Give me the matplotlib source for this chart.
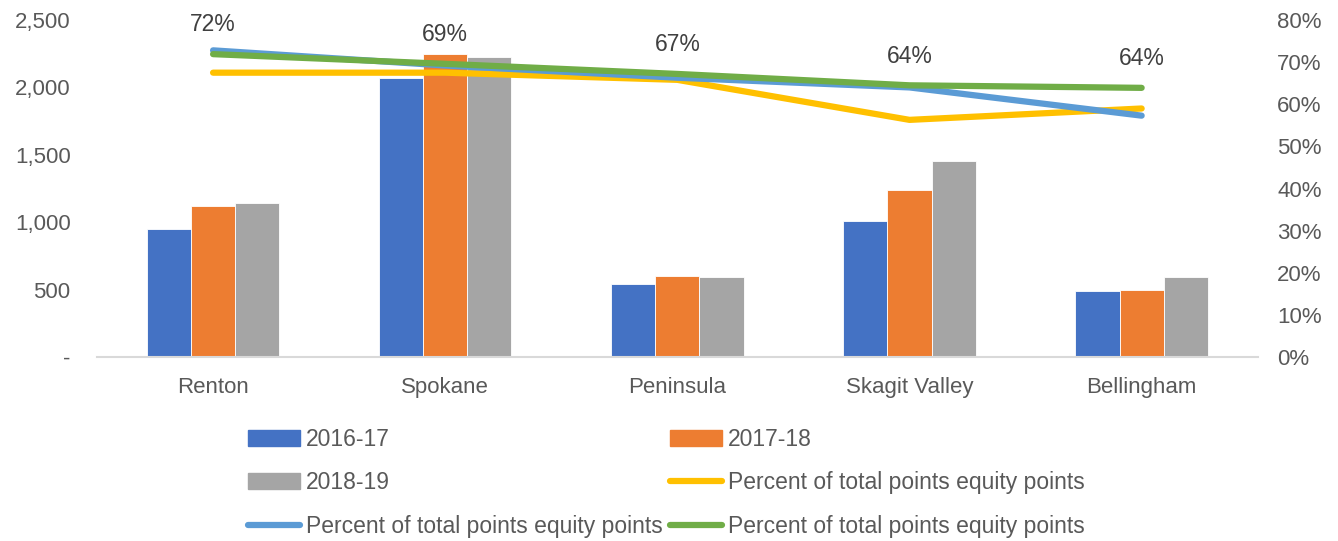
import matplotlib
matplotlib.use("Agg")
import matplotlib.pyplot as plt
import numpy as np
from matplotlib.ticker import FuncFormatter, MultipleLocator
from matplotlib.patches import Patch
from matplotlib.lines import Line2D

plt.rcParams['font.family'] = ['Liberation Sans', 'DejaVu Sans']

categories = ["Renton", "Spokane", "Peninsula", "Skagit Valley", "Bellingham"]
years = ["2016-17", "2017-18", "2018-19"]
vals_2016 = [950, 2070, 545, 1007, 492]
vals_2017 = [1120, 2245, 601, 1236, 494]
vals_2018 = [1142, 2228, 593, 1452, 593]

pct_yellow = [67.5, 67.5, 65.8, 56.3, 59.0]
pct_blue = [72.8, 69.2, 66.3, 64.0, 57.3]
pct_green = [71.9, 69.6, 67.2, 64.5, 63.9]
pct_labels = ["72%", "69%", "67%", "64%", "64%"]
line_name = "Percent of total points equity points"

bar_colors = ["#4472C4", "#ED7D31", "#A5A5A5"]
c_yellow, c_blue, c_green = "#FFC000", "#5B9BD5", "#70AD47"
txt = "#595959"

fig = plt.figure(figsize=(13.38, 5.41), dpi=100)
ax = fig.add_axes([0.0725, 0.340, 0.8675, 0.623])
x = np.arange(len(categories))
w = 0.19
for i, (vals, c) in enumerate(zip([vals_2016, vals_2017, vals_2018], bar_colors)):
    ax.bar(x + (i - 1) * w, vals, width=w, color=c, edgecolor="white", linewidth=0.6, zorder=2)

ax.set_xlim(-0.5, len(categories) - 0.5)
ax.set_ylim(0, 2500)
ax.yaxis.set_major_locator(MultipleLocator(500))
ax.yaxis.set_major_formatter(FuncFormatter(lambda v, p: "-" if v == 0 else f"{int(v):,}"))
ax.set_xticks(x)
ax.set_xticklabels(categories)
for s in ["top", "left", "right"]:
    ax.spines[s].set_visible(False)
ax.spines["bottom"].set_color("#D9D9D9")
ax.spines["bottom"].set_linewidth(1.5)
ax.tick_params(axis="both", length=0, labelsize=16, colors=txt)
ax.tick_params(axis="x", pad=14)
ax.tick_params(axis="y", pad=19)

ax2 = ax.twinx()
ax2.set_ylim(0, 80)
ax2.yaxis.set_major_locator(MultipleLocator(10))
ax2.yaxis.set_major_formatter(FuncFormatter(lambda v, p: f"{int(round(v))}%"))
for s in ["top", "left", "right", "bottom"]:
    ax2.spines[s].set_visible(False)
ax2.tick_params(axis="y", length=0, labelsize=16, colors=txt, pad=14)

lw = 4.5
ax2.plot(x, pct_yellow, color=c_yellow, lw=lw, solid_capstyle="round", solid_joinstyle="round", zorder=3)
ax2.plot(x, pct_blue, color=c_blue, lw=lw, solid_capstyle="round", solid_joinstyle="round", zorder=4)
ax2.plot(x, pct_green, color=c_green, lw=lw, solid_capstyle="round", solid_joinstyle="round", zorder=5)
for xi, yi, lab in zip(x, pct_green, pct_labels):
    ax2.annotate(lab, (xi, yi), xytext=(0, 21), textcoords="offset points",
                 ha="center", va="center", fontsize=16.5, color="#404040")

handles = [Patch(color=bar_colors[0]), Patch(color=bar_colors[2]),
           Line2D([], [], color=c_blue, lw=lw, solid_capstyle="round"),
           Patch(color=bar_colors[1]),
           Line2D([], [], color=c_yellow, lw=lw, solid_capstyle="round"),
           Line2D([], [], color=c_green, lw=lw, solid_capstyle="round")]
labels = [years[0], years[2], line_name, years[1], line_name, line_name]
fig.legend(handles, labels, ncol=2, loc="center", bbox_to_anchor=(0.498, 0.1075),
           frameon=False, fontsize=16.5, handlelength=2.3, handleheight=0.7,
           handletextpad=0.25, columnspacing=0.3, labelspacing=0.9, labelcolor=txt)

fig.savefig("out.png", dpi=100)
